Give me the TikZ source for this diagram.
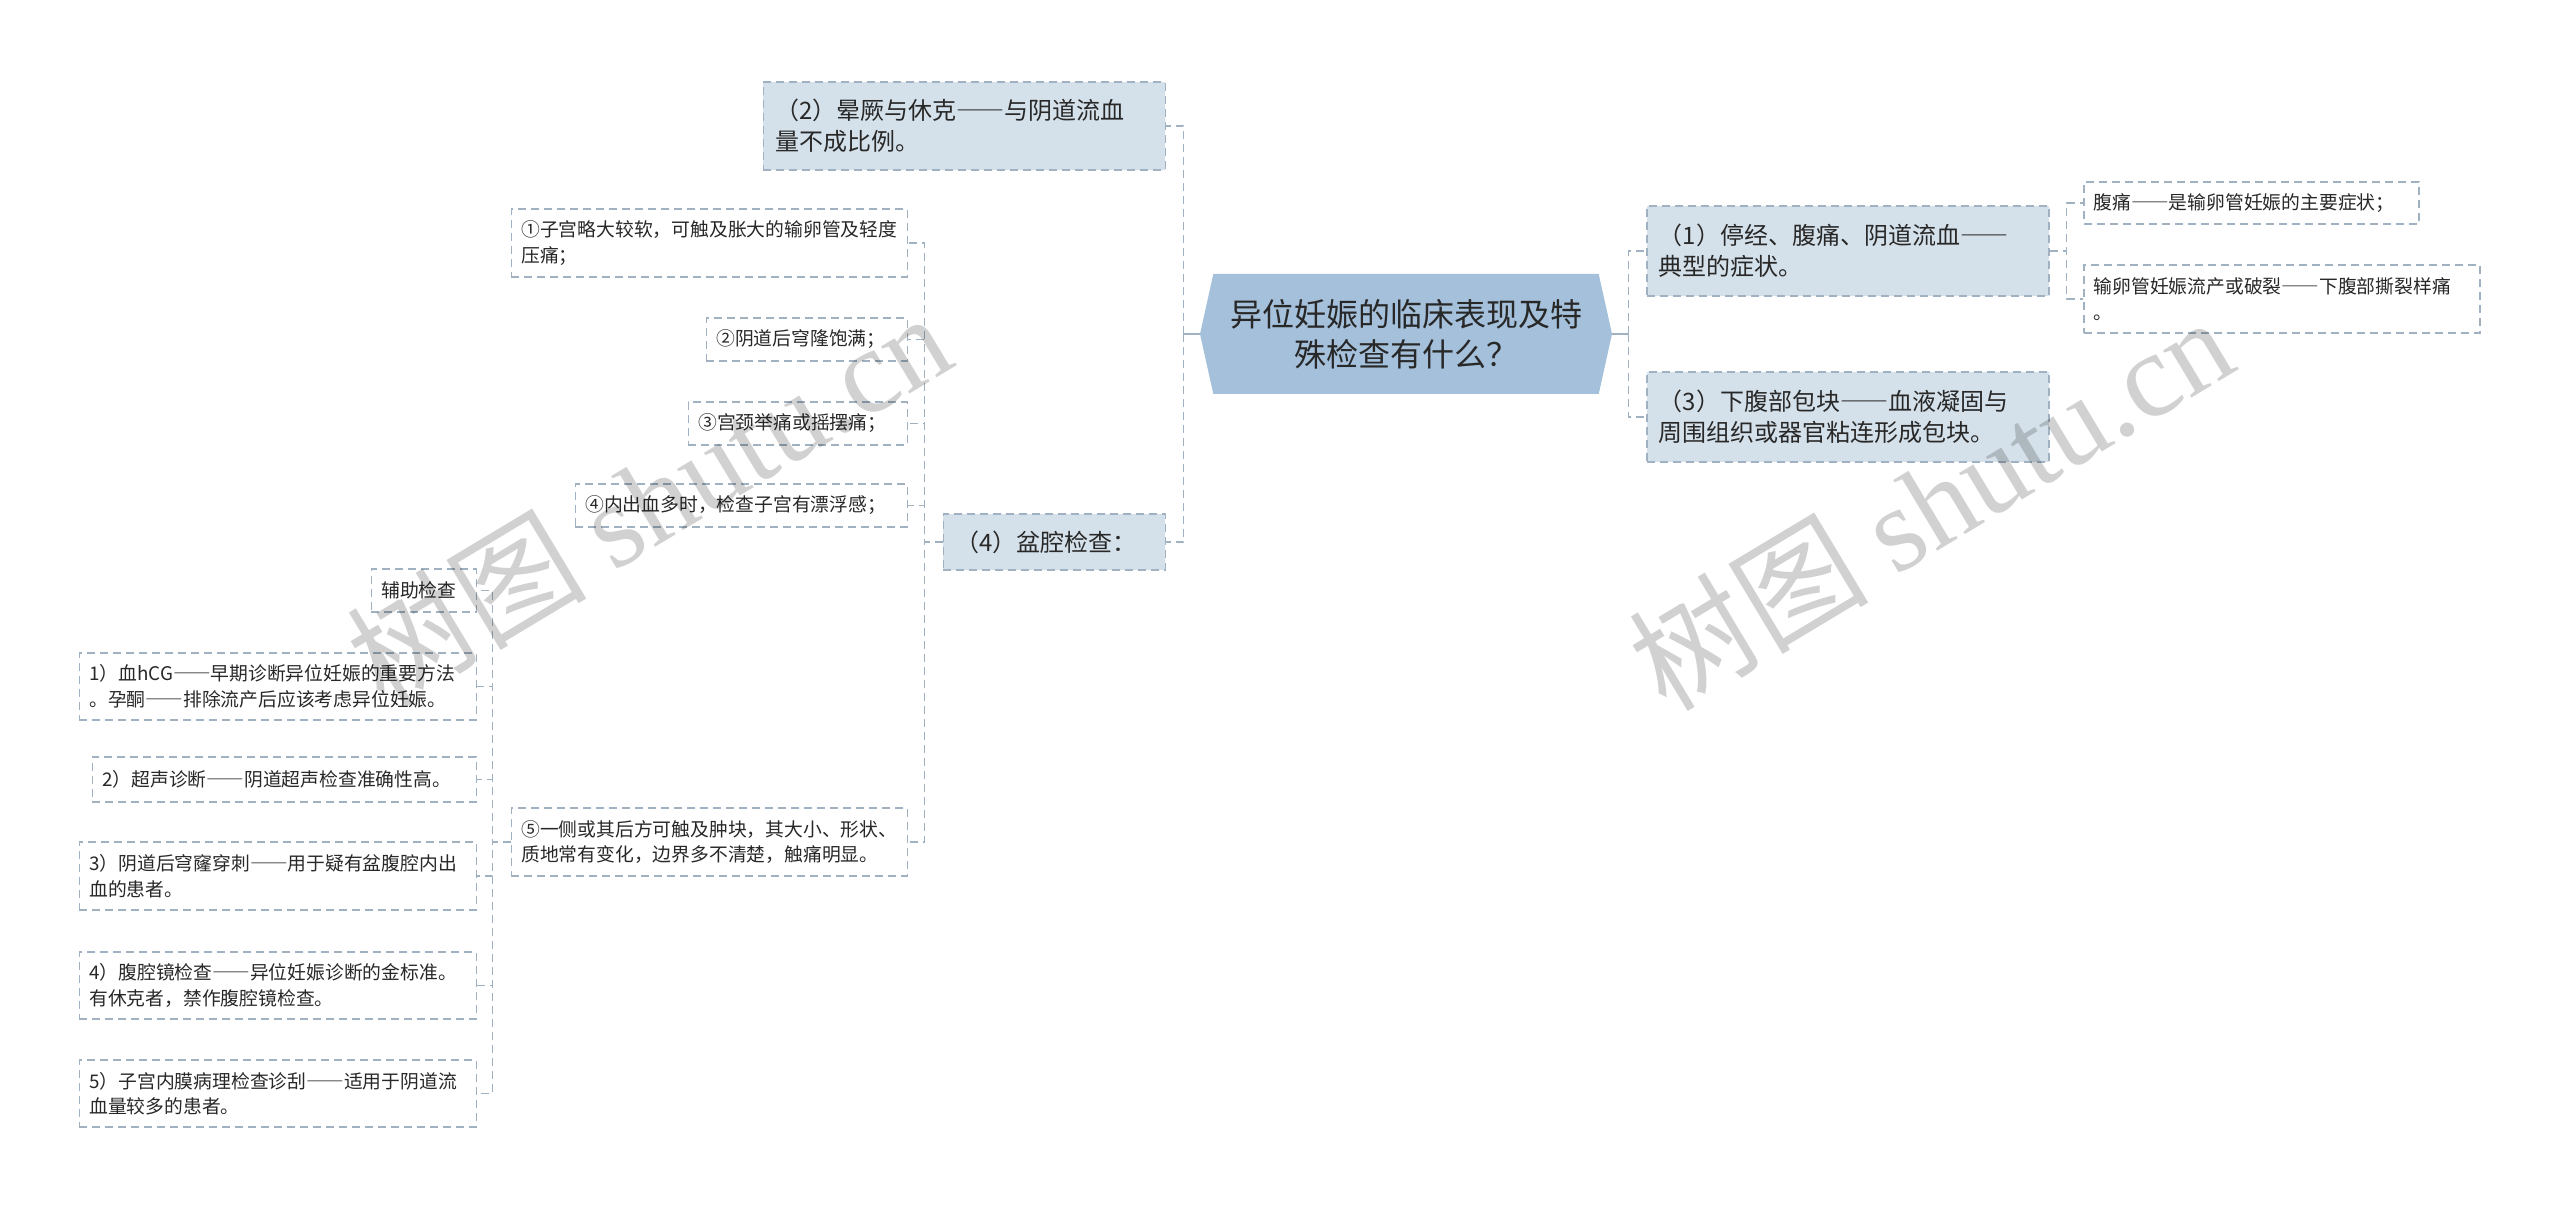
\documentclass[tikz,border=0pt]{standalone}
\usepackage{fontspec}
\setmainfont{Noto Sans CJK SC}
\newfontfamily\fwcjk[CharacterWidth=Full]{Noto Sans CJK SC}
\newfontfamily\wmlatin{Liberation Serif}
\newcommand\dd{{\fwcjk ——}}
\usetikzlibrary{shapes.symbols}
\definecolor{rootfill}{RGB}{164,192,218}
\definecolor{mainfill}{RGB}{213,225,234}
\definecolor{edgecol}{RGB}{160,178,194}
\definecolor{txtcol}{RGB}{40,40,40}

\begin{document}
\begin{tikzpicture}[x=1pt,y=-1pt,
  rootbox/.style={shape=signal,signal to=west and east,signal pointer angle=155,fill=rootfill,minimum width=206pt,minimum height=60pt,inner sep=0pt,align=center,font=\fontsize{16pt}{20pt}\selectfont,text=txtcol},
  mainbox/.style={draw=edgecol,line width=0.75pt,dash pattern=on 4pt off 2.5pt,fill=mainfill,inner xsep=6pt,inner ysep=0pt,align=left,font=\fontsize{12pt}{15.5pt}\selectfont,text=txtcol},
  subbox/.style={draw=edgecol,line width=0.75pt,dash pattern=on 4pt off 2.5pt,fill=white,inner xsep=5pt,inner ysep=0pt,align=left,font=\fontsize{9.4pt}{12.75pt}\selectfont,text=txtcol},
  linkline/.style={draw=edgecol,line width=0.75pt,dash pattern=on 4pt off 2.5pt},
  stemline/.style={draw=edgecol,line width=1pt},
  wmark/.style={rotate=31,text=black,text opacity=0.18,font=\fontsize{60pt}{60pt}\selectfont}]
\useasboundingbox (0,0) rectangle (1280,604);
% centre
\node[rootbox] (root) at (703,167) {异位妊娠的临床表现及特\\殊检查有什么？};
% left side
\node[mainbox,anchor=east,text width=189pt,minimum height=44pt] (m2) at (583,63) {（2）晕厥与休克\dd 与阴道流血\\量不成比例。};
\node[mainbox,anchor=east,text width=99pt,minimum height=28pt] (m4) at (583,271) {（4）盆腔检查：};
% right side
\node[mainbox,anchor=west,text width=189pt,minimum height=45pt] (m1) at (823,125.5) {（1）停经、腹痛、阴道流血\dd\\典型的症状。};
\node[mainbox,anchor=west,text width=189pt,minimum height=45pt] (m3) at (823,208.5) {（3）下腹部包块\dd 血液凝固与\\周围组织或器官粘连形成包块。};
\node[subbox,anchor=west,text width=157.5pt,minimum height=21pt] (s11) at (1041.5,101.5) {腹痛\dd 是输卵管妊娠的主要症状；};
\node[subbox,anchor=west,text width=188pt,minimum height=34pt] (s12) at (1041.5,149.5) {输卵管妊娠流产或破裂\dd 下腹部撕裂样痛\\。};
% pelvic exam
\node[subbox,anchor=east,text width=188pt,minimum height=34pt] (a1) at (454,121.5) {①子宫略大较软，可触及胀大的输卵管及轻度\\压痛；};
\node[subbox,anchor=east,text width=90.5pt,minimum height=21.5pt] (a2) at (454,169.75) {②阴道后穹隆饱满；};
\node[subbox,anchor=east,text width=99.5pt,minimum height=21.5pt] (a3) at (454,211.75) {③宫颈举痛或摇摆痛；};
\node[subbox,anchor=east,text width=156pt,minimum height=21.5pt] (a4) at (454,252.75) {④内出血多时，检查子宫有漂浮感；};
\node[subbox,anchor=east,text width=188pt,minimum height=34pt] (a5) at (454,421) {⑤一侧或其后方可触及肿块，其大小、形状、\\质地常有变化，边界多不清楚，触痛明显。};
% auxiliary exams
\node[subbox,anchor=east,text width=42.5pt,minimum height=21.5pt] (b0) at (238.5,295.25) {辅助检查};
\node[subbox,anchor=east,text width=188.5pt,minimum height=33.5pt] (b1) at (238.5,343.25) {1）血hCG\dd 早期诊断异位妊娠的重要方法\\。孕酮\dd 排除流产后应该考虑异位妊娠。};
\node[subbox,anchor=east,text width=182pt,minimum height=22.5pt] (b2) at (238.5,389.75) {2）超声诊断\dd 阴道超声检查准确性高。};
\node[subbox,anchor=east,text width=188.5pt,minimum height=34pt] (b3) at (238.5,438) {3）阴道后穹窿穿刺\dd 用于疑有盆腹腔内出\\血的患者。};
\node[subbox,anchor=east,text width=188.5pt,minimum height=33.5pt] (b4) at (238.5,492.75) {4）腹腔镜检查\dd 异位妊娠诊断的金标准。\\有休克者，禁作腹腔镜检查。};
\node[subbox,anchor=east,text width=188.5pt,minimum height=33.5pt] (b5) at (238.5,546.75) {5）子宫内膜病理检查诊刮\dd 适用于阴道流\\血量较多的患者。};
% connectors
\draw[stemline] (root.west) -- ++(-8,0) coordinate (lbus);
\draw[stemline] (root.east) -- ++(8,0) coordinate (rbus);
\draw[linkline] (lbus) |- (m2.east);
\draw[linkline] (lbus) |- (m4.east);
\draw[linkline] (rbus) |- (m1.west);
\draw[linkline] (rbus) |- (m3.west);
\draw[linkline] (m1.east) -- ++(8.5,0) |- (s11.west);
\draw[linkline] (m1.east) -- ++(8.5,0) |- (s12.west);
\foreach \n in {a1,a2,a3,a4,a5}
  \draw[linkline] (m4.west) -- ++(-9,0) |- (\n.east);
\foreach \n in {b0,b1,b2,b3,b4,b5}
  \draw[linkline] (a5.west) -- ++(-9,0) |- (\n.east);
% watermark
\node[wmark] (wm1) at (324,249) {树图 {\wmlatin shutu.cn}};
\node[wmark] (wm2) at (965,251) {树图 {\wmlatin shutu.cn}};
\end{tikzpicture}
\end{document}
